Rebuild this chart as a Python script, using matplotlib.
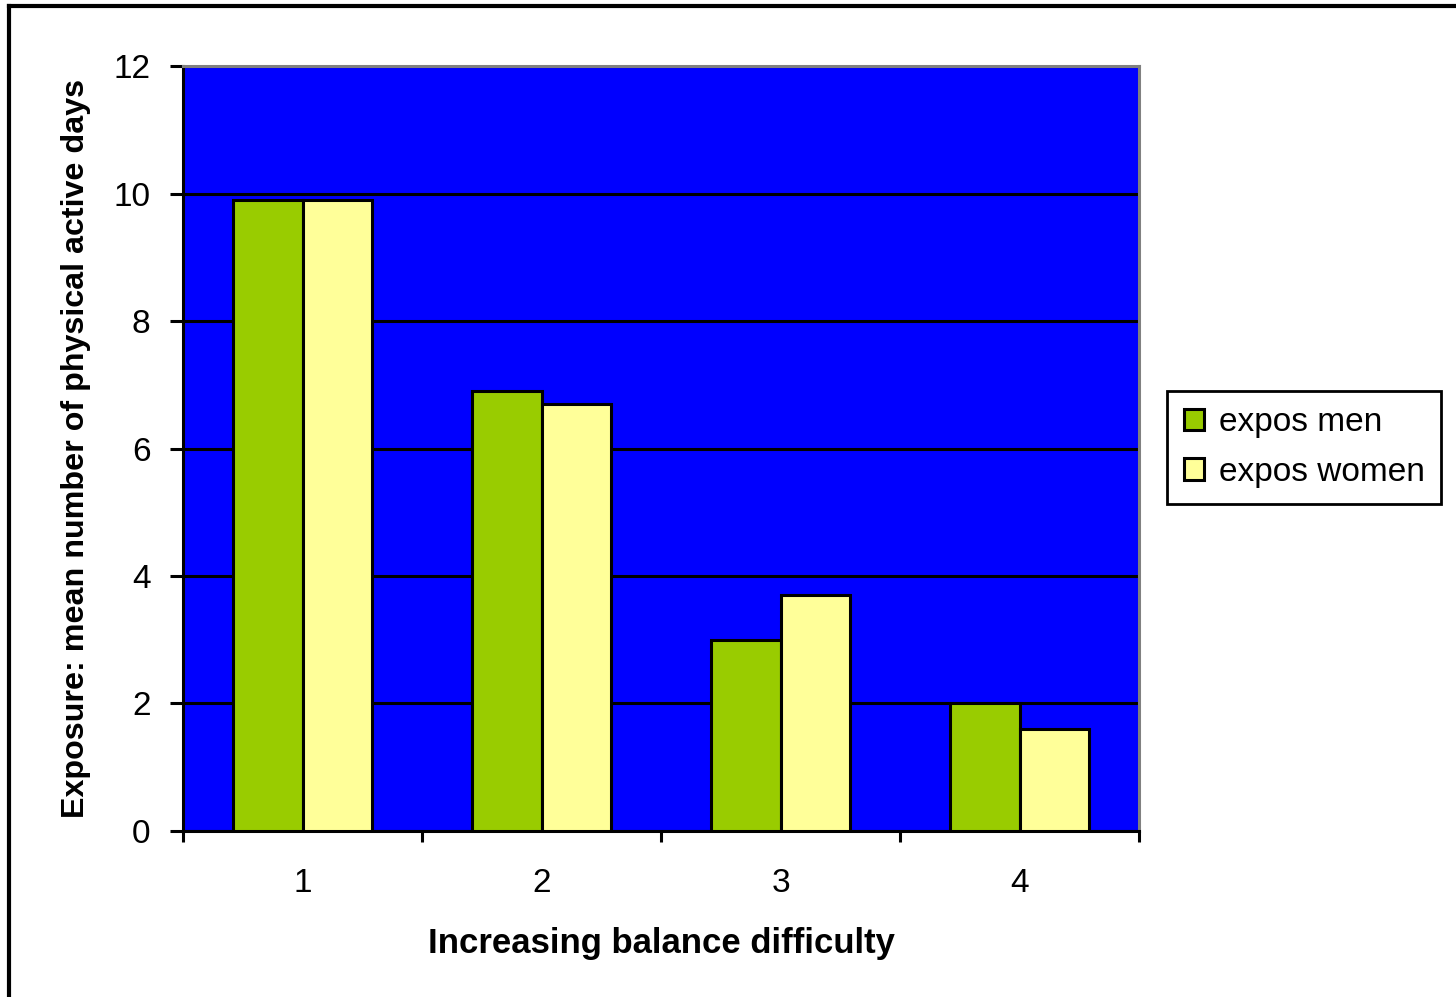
from matplotlib import pyplot as plt
from matplotlib.lines import Line2D
import numpy as np

plt.rcParams["font.family"] = ["Liberation Sans", "DejaVu Sans"]

#----- data -----
categories = ["1", "2", "3", "4"]
men = [9.9, 6.9, 3.0, 2.0]
women = [9.9, 6.7, 3.7, 1.6]
series_names = ["expos men", "expos women"]
colors = ["#99CC00", "#FFFF99"]
y_ticks = [0, 2, 4, 6, 8, 10, 12]

fig = plt.figure(figsize=(14.56, 9.97), dpi=100)
ax = fig.add_axes([0.1257, 0.1665, 0.6566, 0.7673])
ax.set_facecolor("#0000FF")

x = np.arange(len(categories)) + 1
w = 0.29
ax.bar(x - w / 2, men, w, color=colors[0], edgecolor="black", linewidth=2.2,
       label=series_names[0], zorder=3)
ax.bar(x + w / 2, women, w, color=colors[1], edgecolor="black", linewidth=2.2,
       label=series_names[1], zorder=3)

ax.set_ylim(0, 12)
ax.set_xlim(0.5, len(categories) + 0.5)
ax.set_yticks(y_ticks)
ax.set_yticklabels([str(v) for v in y_ticks], fontsize=24)
ax.yaxis.grid(True, color="black", linewidth=2.2, zorder=1)
ax.set_axisbelow(True)

# category labels centred, tick marks on the boundaries
ax.set_xticks(x)
ax.set_xticklabels(categories, fontsize=24)
ax.tick_params(axis="x", length=0, pad=27)
ax.set_xticks(np.arange(len(categories) + 1) + 0.5, minor=True)
ax.tick_params(axis="x", which="minor", length=8, width=2.2, direction="out")
ax.tick_params(axis="y", length=9.5, width=2.2, direction="out", pad=14)

for s in ["left", "bottom"]:
    ax.spines[s].set_color("black")
    ax.spines[s].set_linewidth(2.2)
for s in ["top", "right"]:
    ax.spines[s].set_color("#808080")
    ax.spines[s].set_linewidth(2.2)

ax.set_xlabel("Increasing balance difficulty", fontsize=25, fontweight="bold", labelpad=20)
ax.set_ylabel("Exposure: mean number of physical active days", fontsize=23.2,
              fontweight="bold", labelpad=16)

leg = fig.legend(loc="center left", bbox_to_anchor=(0.8015, 0.551), fontsize=24,
                 frameon=True, fancybox=False, edgecolor="black", handlelength=0.6,
                 handleheight=0.6, handletextpad=0.45, borderpad=0.5, labelspacing=0.55,
                 borderaxespad=0)
leg.get_frame().set_linewidth(2)
leg.get_frame().set_alpha(1)

# outer chart frame (only top and left visible)
fig.add_artist(Line2D([0.0062, 0.0062], [0, 0.994], color="black", linewidth=3,
                      transform=fig.transFigure))
fig.add_artist(Line2D([0.0062, 1], [0.994, 0.994], color="black", linewidth=3,
                      transform=fig.transFigure))

fig.savefig("out.png", dpi=100)
